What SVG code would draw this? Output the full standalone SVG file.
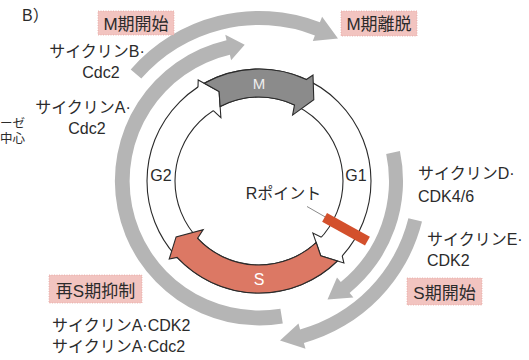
<svg xmlns="http://www.w3.org/2000/svg" width="529" height="360" viewBox="0 0 529 360">
<style>
  text { font-family: "Liberation Sans", "Noto Sans CJK JP", sans-serif; fill: #2b2b2b; }
  .lbl { font-size: 16px; }
  .hd { font-size: 17px; text-anchor: middle; }
  .mid { text-anchor: middle; }
  .box { fill: #f2c4c0; stroke: #e6a7a2; stroke-width: 0.8; stroke-dasharray: 1 1.5; }
  .band { fill: #b5b5b5; }
  .ring { fill: none; stroke: #2a2a2a; stroke-width: 1.1; }
  .edge { fill: none; stroke: #2a2a2a; stroke-width: 1.1; stroke-linejoin: miter; }
  .flare { fill: #ffffff; stroke: none; }
</style>
<rect width="529" height="360" fill="#ffffff"/>

<!-- outer grey arrows (connectors) -->
<g id="connectors">
  <path id="arrow-M" class="band" d="M130.7,69.5 A170,170 0 0 1 319.9,22.3 L322.1,16.7 L338.0,38.4 L312.8,41.0 L314.9,35.4 A156,156 0 0 0 141.3,78.6 Z"/>
  <path id="arrow-A" class="band" d="M282.8,323.5 A144.5,144.5 0 0 1 226.5,40.2 L225.3,34.8 L244.7,44.8 L231.1,60.2 L229.9,54.8 A129.5,129.5 0 0 0 280.4,308.7 Z"/>
  <path id="arrow-D" class="band" d="M399.9,151.1 A144,144 0 0 1 349.6,292.9 L353.4,297.6 L327.5,299.6 L337.0,277.4 L340.8,282.0 A130,130 0 0 0 386.2,154.0 Z"/>
  <path id="arrow-E" class="band" d="M422.0,221.6 A168,168 0 0 1 303.9,342.9 L305.5,348.7 L280.0,340.6 L298.5,323.6 L300.1,329.4 A154,154 0 0 0 408.4,218.3 Z"/>
  <line id="r-leader" x1="307" y1="206.5" x2="334" y2="222" stroke="#8a8a8a" stroke-width="1"/>
</g>

<!-- cell cycle ring -->
<g id="cycle">
  <circle class="ring" cx="259" cy="181" r="112"/>
  <circle class="ring" cx="259" cy="181" r="84"/>
  <!-- G2 arrowhead flare at M start -->
  <path class="flare" d="M198.0,87.1 L198.2,79.9 L219.1,91.5 L220.9,117.6 L213.3,110.6 Z"/>
  <path class="edge" d="M198.0,87.1 L198.2,79.9 L219.1,91.5 L220.9,117.6 L213.3,110.6"/>
  <!-- G1 arrowhead flare at S start -->
  <path class="flare" d="M342.2,255.9 L343.9,263.0 L320.7,255.8 L312.9,233.1 L321.4,237.2 Z"/>
  <path class="edge" d="M342.2,255.9 L343.9,263.0 L320.7,255.8 L312.9,233.1 L321.4,237.2"/>
</g>

<g id="phase-M">
  <path d="M204.3,83.3 A112,112 0 0 1 306.3,79.5 L313.0,75.0 L313.8,99.8 L292.6,115.1 L294.5,104.9 A84,84 0 0 0 220.1,106.4 L219.1,91.5 Z" fill="#8b8b8b" stroke="#2a2a2a" stroke-width="1.1"/>
  <text class="mid" x="259" y="89" font-size="15" style="fill:#eeeeee">M</text>
</g>

<g id="phase-S">
  <path d="M337.4,261.0 A112,112 0 0 1 177.1,257.4 L169.2,259.1 L176.1,236.9 L203.2,229.6 L197.6,238.3 A84,84 0 0 0 316.2,242.6 L320.7,255.8 Z" fill="#dc7864" stroke="#2a2a2a" stroke-width="1.1"/>
  <text class="mid" x="259" y="285" font-size="16" style="fill:#ffffff">S</text>
</g>

<g id="r-point">
  <rect x="-24.5" y="-5" width="49" height="10" fill="#d3502c" transform="translate(346,229.2) rotate(29)"/>
  <text class="mid" x="283.5" y="199" font-size="16">Rポイント</text>
</g>

<g id="label-G2"><text class="mid" x="161" y="181" font-size="16">G2</text></g>
<g id="label-G1"><text class="mid" x="356" y="181" font-size="16">G1</text></g>

<g id="panel"><text x="22" y="21" font-size="16">B）</text></g>
<g id="cut-text">
  <text x="0" y="128" font-size="12.5">ーゼ</text>
  <text x="0" y="143" font-size="12.5">中心</text>
</g>

<g id="m-start">
  <rect class="box" x="98" y="11" width="76" height="24"/>
  <text class="hd" x="136" y="30">M期開始</text>
</g>
<g id="m-exit">
  <rect class="box" x="341" y="11" width="76" height="25"/>
  <text class="hd" x="379" y="30">M期離脱</text>
</g>
<g id="s-start">
  <rect class="box" x="407" y="278" width="75" height="27"/>
  <text class="hd" x="444.5" y="299">S期開始</text>
</g>
<g id="re-s-block">
  <rect class="box" x="49" y="275" width="93" height="28"/>
  <text class="hd" x="95.5" y="297">再S期抑制</text>
</g>

<g id="cyclinB">
  <text class="lbl mid" x="97" y="57">サイクリンB·</text>
  <text class="lbl mid" x="101" y="78">Cdc2</text>
</g>
<g id="cyclinA-cdc2">
  <text class="lbl mid" x="83" y="113">サイクリンA·</text>
  <text class="lbl mid" x="87" y="134">Cdc2</text>
</g>
<g id="cyclinD">
  <text class="lbl" x="418" y="179">サイクリンD·</text>
  <text class="lbl" x="418" y="202">CDK4/6</text>
</g>
<g id="cyclinE">
  <text class="lbl" x="427" y="245">サイクリンE·</text>
  <text class="lbl" x="427" y="266">CDK2</text>
</g>
<g id="cyclinA-list">
  <text class="lbl" x="52" y="331">サイクリンA·CDK2</text>
  <text class="lbl" x="52" y="352">サイクリンA·Cdc2</text>
</g>
</svg>
